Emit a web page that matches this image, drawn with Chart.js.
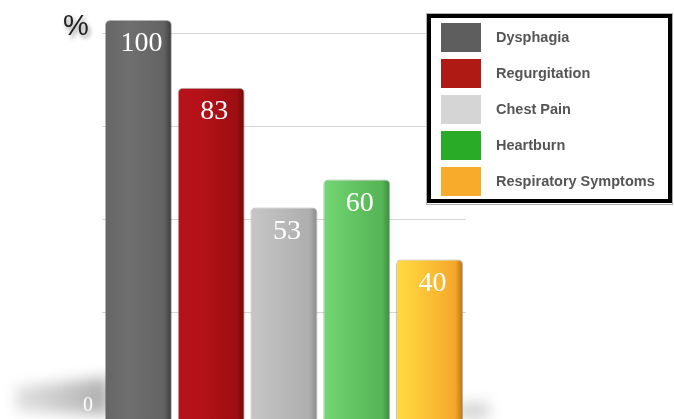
<!DOCTYPE html>
<html>
<head>
<meta charset="utf-8">
<script src="https://cdn.jsdelivr.net/npm/chart.js@4/dist/chart.umd.min.js"></script>
<style>
  html, body { margin: 0; padding: 0; background: #fff; }
  #wrap { width: 674px; height: 419px; position: relative; }
</style>
</head>
<body>
<div id="wrap"><canvas id="myChart"></canvas></div>
<script>
const categories = ['Dysphagia', 'Regurgitation', 'Chest Pain', 'Heartburn', 'Respiratory Symptoms'];
const values = [100, 83, 53, 60, 40];
const gridTicks = [0, 25, 50, 75, 100];
const yLabel = '%';

// flat colours for the legend, gradient stops for the bars (left -> right)
const swatchColors = ['#5e5e5e', '#b01a14', '#d5d5d5', '#2aab28', '#f8ab2a'];
const barStops = [
    ['#666666', '#6f6f6f', '#636363', '#3a3a3a'],
    ['#b8121a', '#b41218', '#9c0e12', '#6e0a0c'],
    ['#c6c6c6', '#bdbdbd', '#adadad', '#8a8a8a'],
    ['#74d874', '#66c866', '#55b455', '#3a8a3a'],
    ['#ffda42', '#fcc83a', '#f5a82a', '#b87418']
];

function barGradient(context) {
    const chart = context.chart;
    const i = context.dataIndex;
    if (!chart.chartArea) return swatchColors[i];
    const xs = chart.scales.x;
    const cx = xs.getPixelForValue(i);
    const w = xs.width / categories.length * 0.92;
    const g = chart.ctx.createLinearGradient(cx - w / 2, 0, cx + w / 2, 0);
    const s = barStops[i];
    g.addColorStop(0, s[0]);
    g.addColorStop(0.35, s[1]);
    g.addColorStop(0.88, s[2]);
    g.addColorStop(1, s[3]);
    return g;
}

const extras = {
    id: 'extras',
    // shadows go first so the "0" tick label stays on top of them
    beforeDraw(chart) {
        const ctx = chart.ctx;
        const area = chart.chartArea;
        const meta = chart.getDatasetMeta(0);
        ctx.save();
        ctx.filter = 'blur(7px)';
        const first = meta.data[0];
        const left = first.x - first.width / 2;
        let g = ctx.createLinearGradient(14, 0, left, 0);
        g.addColorStop(0, 'rgba(200,200,200,0.55)');
        g.addColorStop(1, 'rgba(170,170,170,0.95)');
        ctx.fillStyle = g;
        ctx.beginPath();
        ctx.moveTo(16, area.bottom - 32);
        ctx.lineTo(left + 4, area.bottom - 42);
        ctx.lineTo(left + 4, area.bottom - 4);
        ctx.lineTo(16, area.bottom - 8);
        ctx.closePath();
        ctx.fill();
        const last = meta.data[meta.data.length - 1];
        const right = last.x + last.width / 2;
        ctx.fillStyle = 'rgba(160,160,160,0.45)';
        ctx.fillRect(right - 6, area.bottom - 16, 32, 16);
        ctx.restore();
    },
    afterDatasetsDraw(chart) {
        const ctx = chart.ctx;
        const meta = chart.getDatasetMeta(0);
        ctx.save();
        ctx.fillStyle = '#ffffff';
        ctx.font = '28px "Liberation Serif", serif';
        ctx.textAlign = 'center';
        ctx.textBaseline = 'middle';
        meta.data.forEach((bar, i) => {
            ctx.fillText(String(values[i]), bar.x + 3, bar.y + 24);
        });
        ctx.restore();
    },
    afterDraw(chart) {
        const ctx = chart.ctx;
        ctx.save();
        // % axis title
        ctx.shadowColor = 'rgba(0,0,0,0.45)';
        ctx.shadowBlur = 4;
        ctx.shadowOffsetX = 2;
        ctx.shadowOffsetY = 3;
        ctx.fillStyle = '#1e1e1e';
        ctx.font = '29px "Liberation Sans", sans-serif';
        ctx.textAlign = 'center';
        ctx.textBaseline = 'alphabetic';
        ctx.fillText(yLabel, 76, 35);
        ctx.restore();

        // legend box
        ctx.save();
        ctx.fillStyle = '#ffffff';
        ctx.fillRect(429, 16, 241, 185);
        ctx.strokeStyle = '#b0b0b0';
        ctx.lineWidth = 1;
        ctx.strokeRect(426.5, 13.5, 246, 191);
        ctx.strokeStyle = '#000000';
        ctx.lineWidth = 4;
        ctx.strokeRect(429, 16, 241, 185);
        ctx.font = 'bold 14.5px "Liberation Sans", Arial, sans-serif';
        ctx.textAlign = 'left';
        ctx.textBaseline = 'middle';
        categories.forEach((name, i) => {
            const y = 23 + i * 36;
            ctx.fillStyle = swatchColors[i];
            ctx.fillRect(441, y, 40, 29);
            ctx.fillStyle = '#555555';
            ctx.fillText(name, 496, y + 15);
        });
        ctx.restore();
    }
};

const myChart = document.getElementById('myChart').getContext('2d');
const chart = new Chart(myChart, {
    type: 'bar',
    data: {
        labels: categories,
        datasets: [{
            data: values,
            backgroundColor: barGradient,
            borderColor: 'rgba(40,40,40,0.35)',
            borderWidth: 1,
            borderSkipped: 'bottom',
            borderRadius: { topLeft: 5, topRight: 5, bottomLeft: 0, bottomRight: 0 },
            barPercentage: 0.92,
            categoryPercentage: 1
        }]
    },
    plugins: [extras],
    options: {
        responsive: true,
        maintainAspectRatio: false,
        animation: false,
        layout: { padding: { top: 16, right: 208, bottom: 0, left: 0 } },
        plugins: {
            legend: { display: false },
            tooltip: { enabled: false }
        },
        scales: {
            x: { display: false },
            y: { display: false, min: 0, max: 101 },
            yGrid: {
                position: 'left',
                min: -3.5,
                max: 104.8,
                afterBuildTicks(scale) {
                    scale.ticks = gridTicks.map(v => ({ value: v }));
                },
                afterFit(scale) {
                    scale.width = 102;
                    scale.paddingTop = 0;
                    scale.paddingBottom = 0;
                },
                border: { display: false },
                grid: {
                    color: c => (c.tick && c.tick.value === 0) ? 'rgba(0,0,0,0)' : '#d6d6d6',
                    drawTicks: false
                },
                ticks: {
                    padding: 9,
                    color: '#ffffff',
                    font: { family: '"Liberation Serif", serif', size: 20 },
                    callback: v => v === 0 ? '0' : ''
                }
            }
        }
    }
});
</script>
</body>
</html>
